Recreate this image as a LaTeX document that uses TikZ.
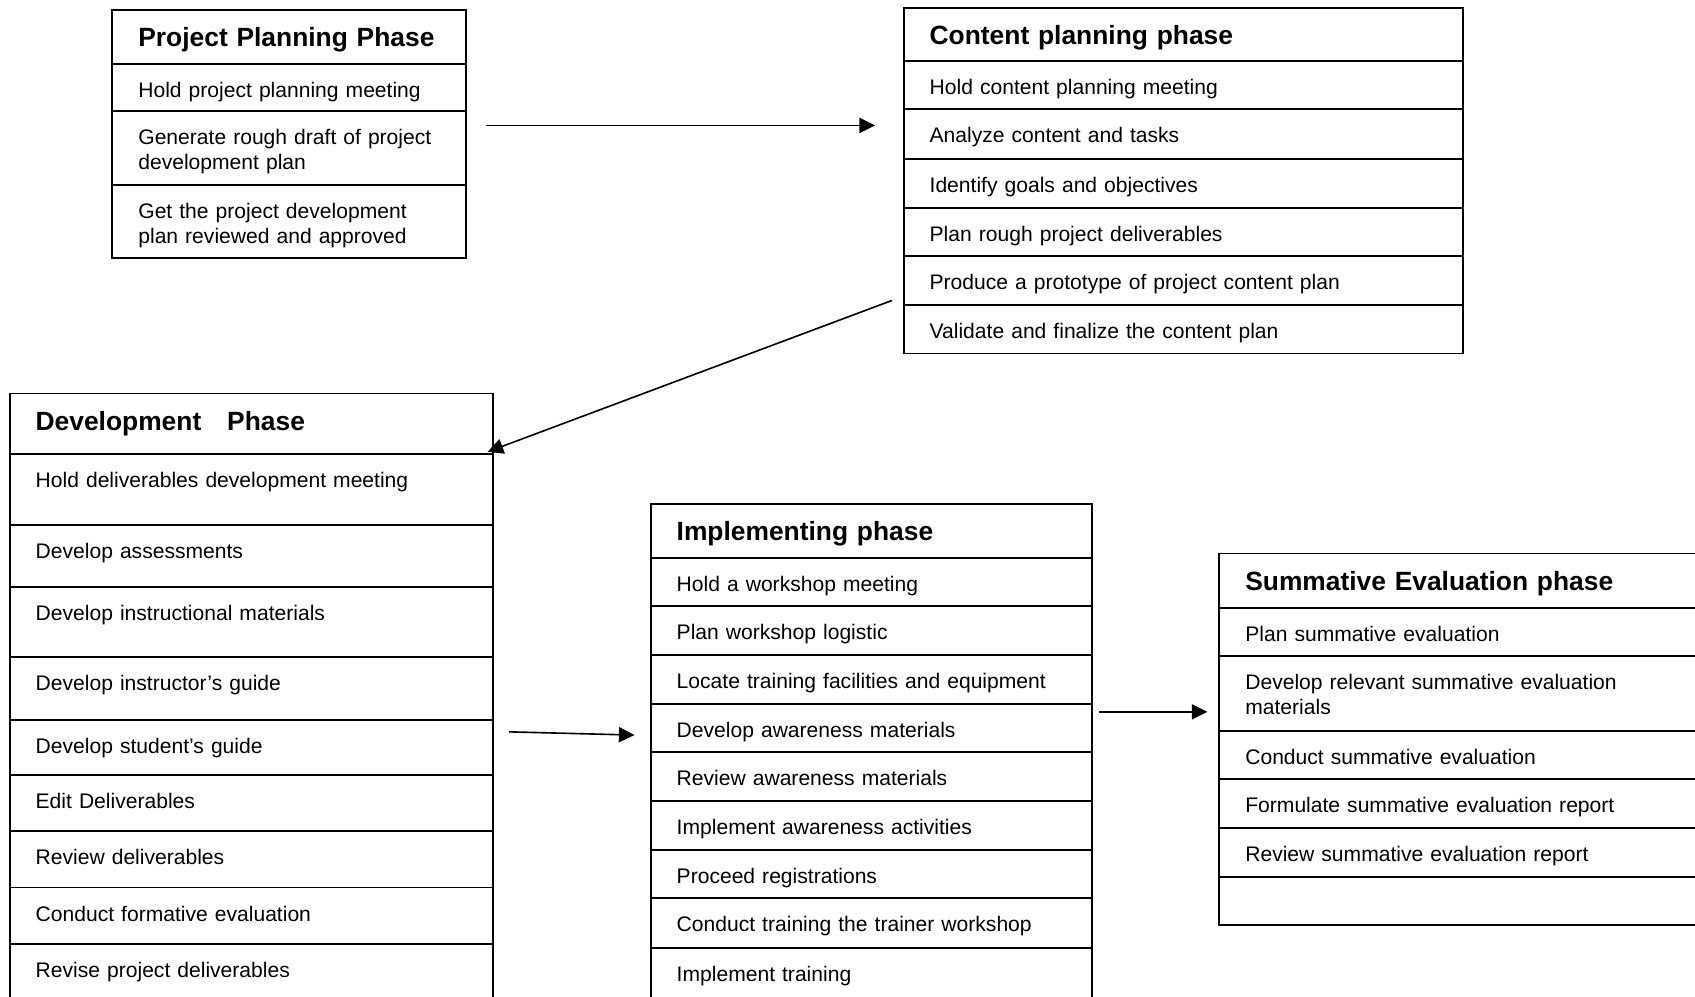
\documentclass[tikz,border=0pt]{standalone}
\usepackage{fontspec}
\setmainfont{Liberation Sans}
\usetikzlibrary{arrows.meta}
\newcommand{\bodyfnt}{\fontsize{19.5pt}{23pt}\selectfont}
\newcommand{\headfnt}{\fontsize{24.4pt}{29pt}\selectfont\bfseries}
\begin{document}
\begin{tikzpicture}[x=1pt,y=-1pt,
  row/.style 2 args={draw, line width=1.8pt, anchor=north west, outer sep=0pt,
    inner xsep=24pt, inner ysep=0pt, text width=#1, align=left,
    font=\bodyfnt, text height=31pt, text depth=#2},
  head/.style 2 args={draw, line width=1.8pt, anchor=north west, outer sep=0pt,
    inner xsep=24pt, inner ysep=0pt, text width=#1, align=left,
    font=\headfnt, text height=34pt, text depth=#2},
  arr/.style={line width=1.5pt, -{Triangle[length=14.5pt,width=14pt]}}]
\clip (0,0) rectangle (1568,922);
% Project planning phase
\node[head={279pt}{16pt}] (p0) at (104,9) {Project Planning Phase};
\node[row={279pt}{13pt}] (p1) at (104,59) {Hold project planning meeting};
\node[row={279pt}{37pt}] (p2) at (104,103) {Generate rough draft of project\\development plan};
\node[row={279pt}{37pt}] (p3) at (104,171) {Get the project development\\plan reviewed and approved};
% Content planning phase
\node[head={469pt}{15pt}] (c0) at (836,7) {Content planning phase};
\node[row={469pt}{14pt}] (c1) at (836,56) {Hold content planning meeting};
\node[row={469pt}{15pt}] (c2) at (836,101) {Analyze content and tasks};
\node[row={469pt}{14pt}] (c3) at (836,147) {Identify goals and objectives};
\node[row={469pt}{14pt}] (c4) at (836,192) {Plan rough project deliverables};
\node[row={469pt}{14pt}] (c5) at (836,237) {Produce a prototype of project content plan};
\node[row={469pt}{14pt}] (c6) at (836,282) {Validate and finalize the content plan};
% Development phase
\node[head={399pt}{22pt}] (d0) at (9,364) {Development\hspace{24pt}Phase};
\node[row={399pt}{35pt}] (d1) at (9,420) {Hold deliverables development meeting};
\node[row={399pt}{26pt}] (d2) at (9,486) {Develop assessments};
\node[row={399pt}{34pt}] (d3) at (9,543) {Develop instructional materials};
\node[row={399pt}{27pt}] (d4) at (9,608) {Develop instructor’s guide};
\node[row={399pt}{20pt}] (d5) at (9,666) {Develop student’s guide};
\node[row={399pt}{21pt}] (d6) at (9,717) {Edit Deliverables};
\node[row={399pt}{21pt}] (d7) at (9,769) {Review deliverables};
\node[row={399pt}{21pt}] (d8) at (9,821) {Conduct formative evaluation};
\node[row={399pt}{49pt}] (d9) at (9,873) {Revise project deliverables};
% Implementing phase
\node[head={360pt}{16pt}] (i0) at (602,466) {Implementing phase};
\node[row={360pt}{14pt}] (i1) at (602,516) {Hold a workshop meeting};
\node[row={360pt}{14pt}] (i2) at (602,561) {Plan workshop logistic};
\node[row={360pt}{14pt}] (i3) at (602,606) {Locate training facilities and equipment};
\node[row={360pt}{14pt}] (i4) at (602,651) {Develop awareness materials};
\node[row={360pt}{14pt}] (i5) at (602,696) {Review awareness materials};
\node[row={360pt}{14pt}] (i6) at (602,741) {Implement awareness activities};
\node[row={360pt}{14pt}] (i7) at (602,786) {Proceed registrations};
\node[row={360pt}{15pt}] (i8) at (602,831) {Conduct training the trainer workshop};
\node[row={360pt}{49pt}] (i9) at (602,877) {Implement training};
% Summative evaluation phase
\node[head={472pt}{16pt}] (s0) at (1128,512) {Summative Evaluation phase};
\node[row={472pt}{14pt}] (s1) at (1128,562) {Plan summative evaluation};
\node[row={472pt}{38pt}] (s2) at (1128,607) {Develop relevant summative evaluation\\materials};
\node[row={472pt}{14pt}] (s3) at (1128,676) {Conduct summative evaluation};
\node[row={472pt}{14pt}] (s4) at (1128,721) {Formulate summative evaluation report};
\node[row={472pt}{14pt}] (s5) at (1128,766) {Review summative evaluation report};
\node[row={472pt}{14pt}] (s6) at (1128,811) {};
% connectors
\draw[arr] ([shift={(19,13)}]p2.north east) -- ([shift={(-26.5,15)}]c2.north west);
\draw[arr] ([shift={(-11,-4)}]c5.south west) -- ([shift={(-5,-2)}]d0.south east);
\draw[arr] ([shift={(15,11)}]d5.north east) -- ([shift={(-15,29)}]i4.north west);
\draw[arr] ([shift={(7,7.5)}]i4.north east) -- ([shift={(-11,51.5)}]s2.north west);
\end{tikzpicture}
\end{document}
